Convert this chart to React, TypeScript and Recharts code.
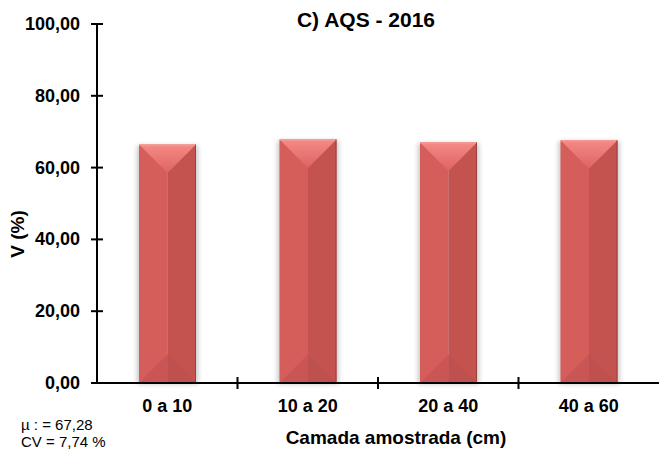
import React from 'react';
import { BarChart, Bar, XAxis, YAxis } from 'recharts';

const camadas = ['0 a 10', '10 a 20', '20 a 40', '40 a 60'];
const valoresV = [66.4, 67.8, 67.0, 67.6];
const yTicks = [0, 20, 40, 60, 80, 100];

const data = camadas.map((c, i) => ({ camada: c, v: valoresV[i] }));

const W = 659;
const H = 452;
const AXIS_X = 97;
const AXIS_Y = 383;
const BAND = (W - AXIS_X) / camadas.length;
const FONT = '"Liberation Sans", Arial, sans-serif';

const fmt = (v: number) => v.toFixed(2).replace('.', ',');

const YTick = (props: any) => {
  const { y, payload } = props;
  return (
    <g>
      <line x1={AXIS_X - 6} x2={AXIS_X + 6} y1={y} y2={y} stroke="#000" strokeWidth={2} />
      <text x={80} y={y} dy={6} textAnchor="end" fontFamily={FONT} fontWeight="bold" fontSize={18} fill="#000">
        {fmt(payload.value)}
      </text>
    </g>
  );
};

const XTick = (props: any) => {
  const { x, payload, index } = props;
  return (
    <g>
      {index < camadas.length - 1 && (
        <line x1={x + BAND / 2} x2={x + BAND / 2} y1={AXIS_Y - 6} y2={AXIS_Y + 6} stroke="#000" strokeWidth={2} />
      )}
      <text x={x} y={412} textAnchor="middle" fontFamily={FONT} fontWeight="bold" fontSize={18} fill="#000">
        {payload.value}
      </text>
    </g>
  );
};

// bevelled "3D" bar like the office chart style
const BevelBar = (props: any) => {
  const { x, y, width: w, height: h, index } = props;
  if (!h || h <= 0) return null;
  const cx = x + w / 2;
  const d = w / 2;
  const gid = `top-${index}`;
  const fid = `sh-${index}`;
  return (
    <g>
      <defs>
        <linearGradient id={gid} x1="0" y1="0" x2="0" y2="1">
          <stop offset="0%" stopColor="#f58a86" />
          <stop offset="100%" stopColor="#dc6461" />
        </linearGradient>
        <filter id={fid} x="-30%" y="-10%" width="160%" height="120%">
          <feGaussianBlur stdDeviation="2.5" />
        </filter>
      </defs>
      <rect x={x - 2} y={y + 1} width={w + 4} height={h} fill="#000" opacity={0.22} filter={`url(#${fid})`} />
      <rect x={x} y={y} width={w / 2} height={h} fill="#d55d5a" />
      <rect x={cx} y={y} width={w / 2} height={h} fill="#c4524f" />
      <polygon points={`${x},${y + h} ${cx},${y + h - d} ${cx},${y + h}`} fill="#c95654" />
      <polygon points={`${cx},${y + h - d} ${x + w},${y + h} ${cx},${y + h}`} fill="#be504e" />
      <polygon points={`${x},${y} ${x + w},${y} ${cx},${y + d}`} fill={`url(#${gid})`} />
      <line x1={x} x2={x + w} y1={y + 0.5} y2={y + 0.5} stroke="#f7a19c" strokeWidth={1} />
      <line x1={x + w - 0.5} x2={x + w - 0.5} y1={y} y2={y + h} stroke="#9a403e" strokeWidth={1} />
    </g>
  );
};

export default function App() {
  return (
    <div style={{ position: 'absolute', left: 0, top: 0, width: W, height: H, background: '#fff', fontFamily: FONT }}>
      <BarChart width={W} height={H} data={data} margin={{ top: 24, right: 0, left: 0, bottom: 0 }} barSize={57}>
        <XAxis
          dataKey="camada"
          height={H - AXIS_Y}
          axisLine={{ stroke: '#000', strokeWidth: 2 }}
          tickLine={false}
          tick={<XTick />}
          interval={0}
        />
        <YAxis
          width={AXIS_X}
          domain={[0, 100]}
          ticks={yTicks}
          axisLine={{ stroke: '#000', strokeWidth: 2 }}
          tickLine={false}
          tick={<YTick />}
          interval={0}
        />
        <Bar dataKey="v" shape={<BevelBar />} isAnimationActive={false} />
      </BarChart>
      <div style={{ position: 'absolute', left: 256, width: 220, top: 7, textAlign: 'center', fontWeight: 'bold', fontSize: 21, lineHeight: '26px' }}>
        C) AQS - 2016
      </div>
      <div
        style={{
          position: 'absolute',
          left: 18,
          top: 234,
          transform: 'translate(-50%, -50%) rotate(-90deg)',
          fontWeight: 'bold',
          fontSize: 19,
          whiteSpace: 'nowrap',
        }}
      >
        V (%)
      </div>
      <div style={{ position: 'absolute', left: 266, width: 260, top: 427, textAlign: 'center', fontWeight: 'bold', fontSize: 19, lineHeight: '22px', whiteSpace: 'nowrap' }}>
        Camada amostrada (cm)
      </div>
      <div style={{ position: 'absolute', left: 21, top: 416, fontSize: 15, lineHeight: '17px', whiteSpace: 'nowrap' }}>
        <div>µ : = 67,28</div>
        <div>CV = 7,74 %</div>
      </div>
    </div>
  );
}
